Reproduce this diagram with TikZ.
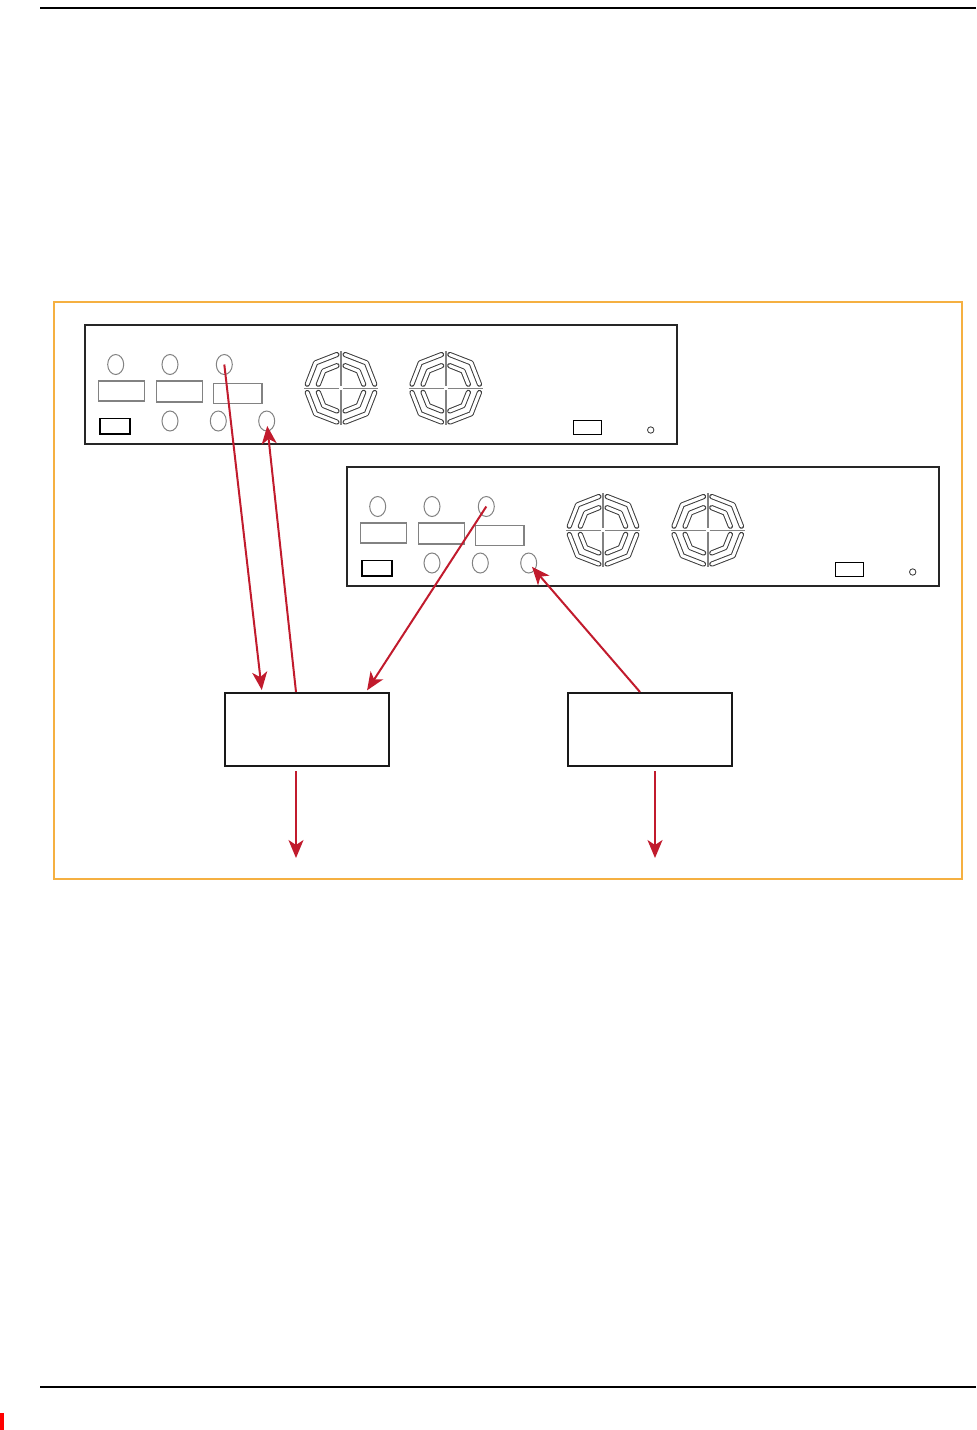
\documentclass[tikz,border=0pt]{standalone}
\usepackage{tikz}
\usetikzlibrary{arrows.meta,shapes.geometric}

\definecolor{linkred}{RGB}{193,27,45}
\definecolor{frameorange}{RGB}{245,176,65}
\definecolor{portgray}{RGB}{130,130,130}
\definecolor{fangray}{RGB}{60,60,60}

\tikzset{
	chassis/.style={draw=black!85,line width=0.75pt},
	port/.style={ellipse,draw=portgray,line width=0.5pt,minimum width=8pt,minimum height=10pt,inner sep=0pt},
	slot/.style={draw=fangray,line width=0.5pt,double=white,double distance=1.6pt,line cap=round,line join=round},
	unitbox/.style={draw=black!90,line width=1pt,minimum width=82pt,minimum height=36.5pt},
	link/.style={draw=linkred,line width=1pt,-{Stealth[length=9pt,width=7.5pt,inset=2.5pt]}},
	pics/fan/.style={code={
		\draw[portgray,line width=0.8pt] (-37,0) -- (-2,0) (2,0) -- (37,0) (0,-37) -- (0,-2) (0,2) -- (0,37);
		\foreach \a in {0,90,180,270} {
			\draw[slot] (\a+97:34) -- (\a+135:36) -- (\a+173:34);
			\draw[slot] (\a+100:23) -- (\a+135:24.5) -- (\a+170:23);
		}
	}},
	pics/panel/.style={code={
		\draw[chassis] (0,0) rectangle (592,119);
		\foreach \x [count=\i] in {30.7,85,139.3}
			\node[port] (-t\i) at (\x,39.5) {};
		\foreach \x [count=\i] in {85,133.3,181.7}
			\node[port] (-b\i) at (\x,96) {};
		\draw[portgray,line width=0.6pt] (13.3,56) rectangle (59.3,76);
		\draw[portgray,line width=0.6pt] (71.7,56) rectangle (117.7,77);
		\draw[portgray,line width=0.6pt] (128.3,58.3) rectangle (177,78.3);
		\draw[black,line width=0.8pt] (15,93.3) rectangle (45,108.7);
		\draw[black,line width=0.5pt] (488.3,95) rectangle (516.7,109);
		\draw[black!80,line width=0.4pt] (565.7,105) circle [radius=1.6pt];
		\pic at (256,63.3) {fan};
		\pic at (360.7,63.3) {fan};
	}}
}

\begin{document}
\begin{tikzpicture}[x=0.5pt,y=-0.5pt]
		\useasboundingbox (0,0) rectangle (976,1430);
		
		% page rules
		\draw[line width=1pt] (40,8) -- (976,8);
		\draw[line width=1pt] (40,1387) -- (976,1387);
		\fill[red] (0,1413) rectangle (4,1430);
		
		% frame
		\draw[frameorange,line width=0.9pt] (54,302) rectangle (962,879);
		
		% the two chassis
		\pic (p1) at (85,325) {panel};
		\pic (p2) at (347,467) {panel};
		
		\node[unitbox] (box1) at (307,729.5) {};
		\node[unitbox] (box2) at (649.5,729.5) {};
		\coordinate (out1) at (296,858);
		\coordinate (out2) at (655,858);
		
		\draw[link,shorten >=1pt] (p1-t3.center) -- ([xshift=-22.5pt]box1.north);
		\draw[link,shorten >=2.5pt] ([xshift=-5.5pt]box1.north) -- (p1-b3.center);
		\draw[link,shorten >=1pt] (p2-t3.center) -- ([xshift=29.5pt]box1.north);
		\draw[link,shorten >=2.5pt] ([xshift=-4.75pt]box2.north) -- (p2-b3.center);
		\draw[link] ([xshift=-5.5pt,yshift=-2pt]box1.south) -- (out1);
		\draw[link] ([xshift=2.75pt,yshift=-2pt]box2.south) -- (out2);
	\end{tikzpicture}
\end{document}
